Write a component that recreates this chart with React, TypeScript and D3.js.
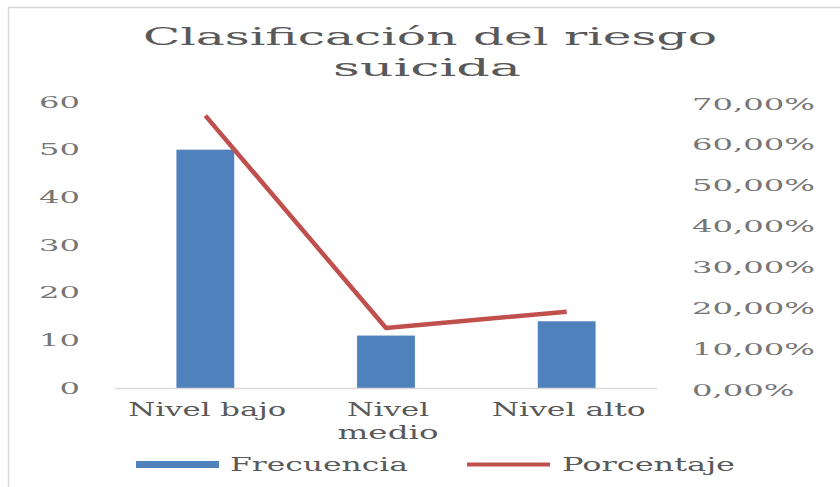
import React from 'react';
import * as d3 from 'd3';

const categories = ['Nivel bajo', 'Nivel medio', 'Nivel alto'];
const categoryLines = [['Nivel bajo'], ['Nivel', 'medio'], ['Nivel alto']];
const frecuencia = [50, 11, 14];
const porcentaje = [0.6667, 0.1467, 0.1867];
const leftTicks = [0, 10, 20, 30, 40, 50, 60];
const rightTicks = [0, 0.1, 0.2, 0.3, 0.4, 0.5, 0.6, 0.7];

const FONT = '"DejaVu Serif", serif';
const width = 840;
const height = 487;
const margin = { top: 102, right: 183, bottom: 99, left: 115 };

// stretched text widths
const labelWidth: Record<string, number> = {
	'Nivel bajo': 158, 'Nivel': 82, 'medio': 101, 'Nivel alto': 154,
};

const pct = (v: number) => v.toFixed(2).replace('.', ',') + '%';

const App: React.FC = () => {
	const x = d3.scaleBand<string>()
		.domain(categories)
		.range([margin.left, width - margin.right])
		.paddingInner(0.68)
		.paddingOuter(0.34);
	const yL = d3.scaleLinear().domain([0, 60]).range([height - margin.bottom, margin.top]);
	const yR = d3.scaleLinear().domain([0, 0.7]).range([height - margin.bottom, margin.top]);

	const line = d3.line<number>()
		.x((_, i) => (x(categories[i]) || 0) + x.bandwidth() / 2)
		.y(d => yR(d));

	const base = height - margin.bottom;

	return (
		<svg width={width} height={height} style={{ position: 'absolute', left: 0, top: 0, background: '#fff' }}>
			<rect x={8.5} y={7.5} width={900} height={600} fill="#fff" stroke="#d9d9d9" strokeWidth={1.5} />

			<text x={430} y={45} textAnchor="middle" fontFamily={FONT} fontSize={25} fill="#595959"
				textLength={574} lengthAdjust="spacingAndGlyphs">Clasificación del riesgo</text>
			<text x={427} y={76} textAnchor="middle" fontFamily={FONT} fontSize={25} fill="#595959"
				textLength={188} lengthAdjust="spacingAndGlyphs">suicida</text>

			{leftTicks.map(t => (
				<text key={'l' + t} x={80} y={yL(t)} dy="0.35em" textAnchor="end" fontFamily={FONT}
					fontSize={16} fill="#767676" textLength={String(t).length * 20.5} lengthAdjust="spacingAndGlyphs">{t}</text>
			))}
			{rightTicks.map(t => (
				<text key={'r' + t} x={692} y={yR(t) + 2} dy="0.35em" textAnchor="start" fontFamily={FONT}
					fontSize={16} fill="#767676" textLength={pct(t * 100).length * 20.5} lengthAdjust="spacingAndGlyphs">{pct(t * 100)}</text>
			))}

			{frecuencia.map((v, i) => (
				<rect key={categories[i]} x={x(categories[i])} y={yL(v)} width={x.bandwidth()}
					height={base - yL(v)} fill="#4f81bd" />
			))}

			<line x1={margin.left} x2={width - margin.right} y1={base + 0.5} y2={base + 0.5} stroke="#d9d9d9" strokeWidth={1.5} />

			<path d={line(porcentaje) || ''} fill="none" stroke="#c0504d" strokeWidth={4.5} strokeLinejoin="round" />

			{categoryLines.map((lines, i) => lines.map((s, j) => (
				<text key={s + i} x={(x(categories[i]) || 0) + x.bandwidth() / 2 + 2} y={416 + j * 23}
					textAnchor="middle" fontFamily={FONT} fontSize={19} fill="#595959"
					textLength={labelWidth[s]} lengthAdjust="spacingAndGlyphs">{s}</text>
			)))}

			<rect x={136} y={461} width={83} height={7} fill="#4f81bd" />
			<text x={230} y={471} fontFamily={FONT} fontSize={19} fill="#595959"
				textLength={178} lengthAdjust="spacingAndGlyphs">Frecuencia</text>
			<line x1={467} x2={550} y1={464.5} y2={464.5} stroke="#c0504d" strokeWidth={4} />
			<text x={562} y={471} fontFamily={FONT} fontSize={19} fill="#595959"
				textLength={173} lengthAdjust="spacingAndGlyphs">Porcentaje</text>
		</svg>
	);
};

export default App;
